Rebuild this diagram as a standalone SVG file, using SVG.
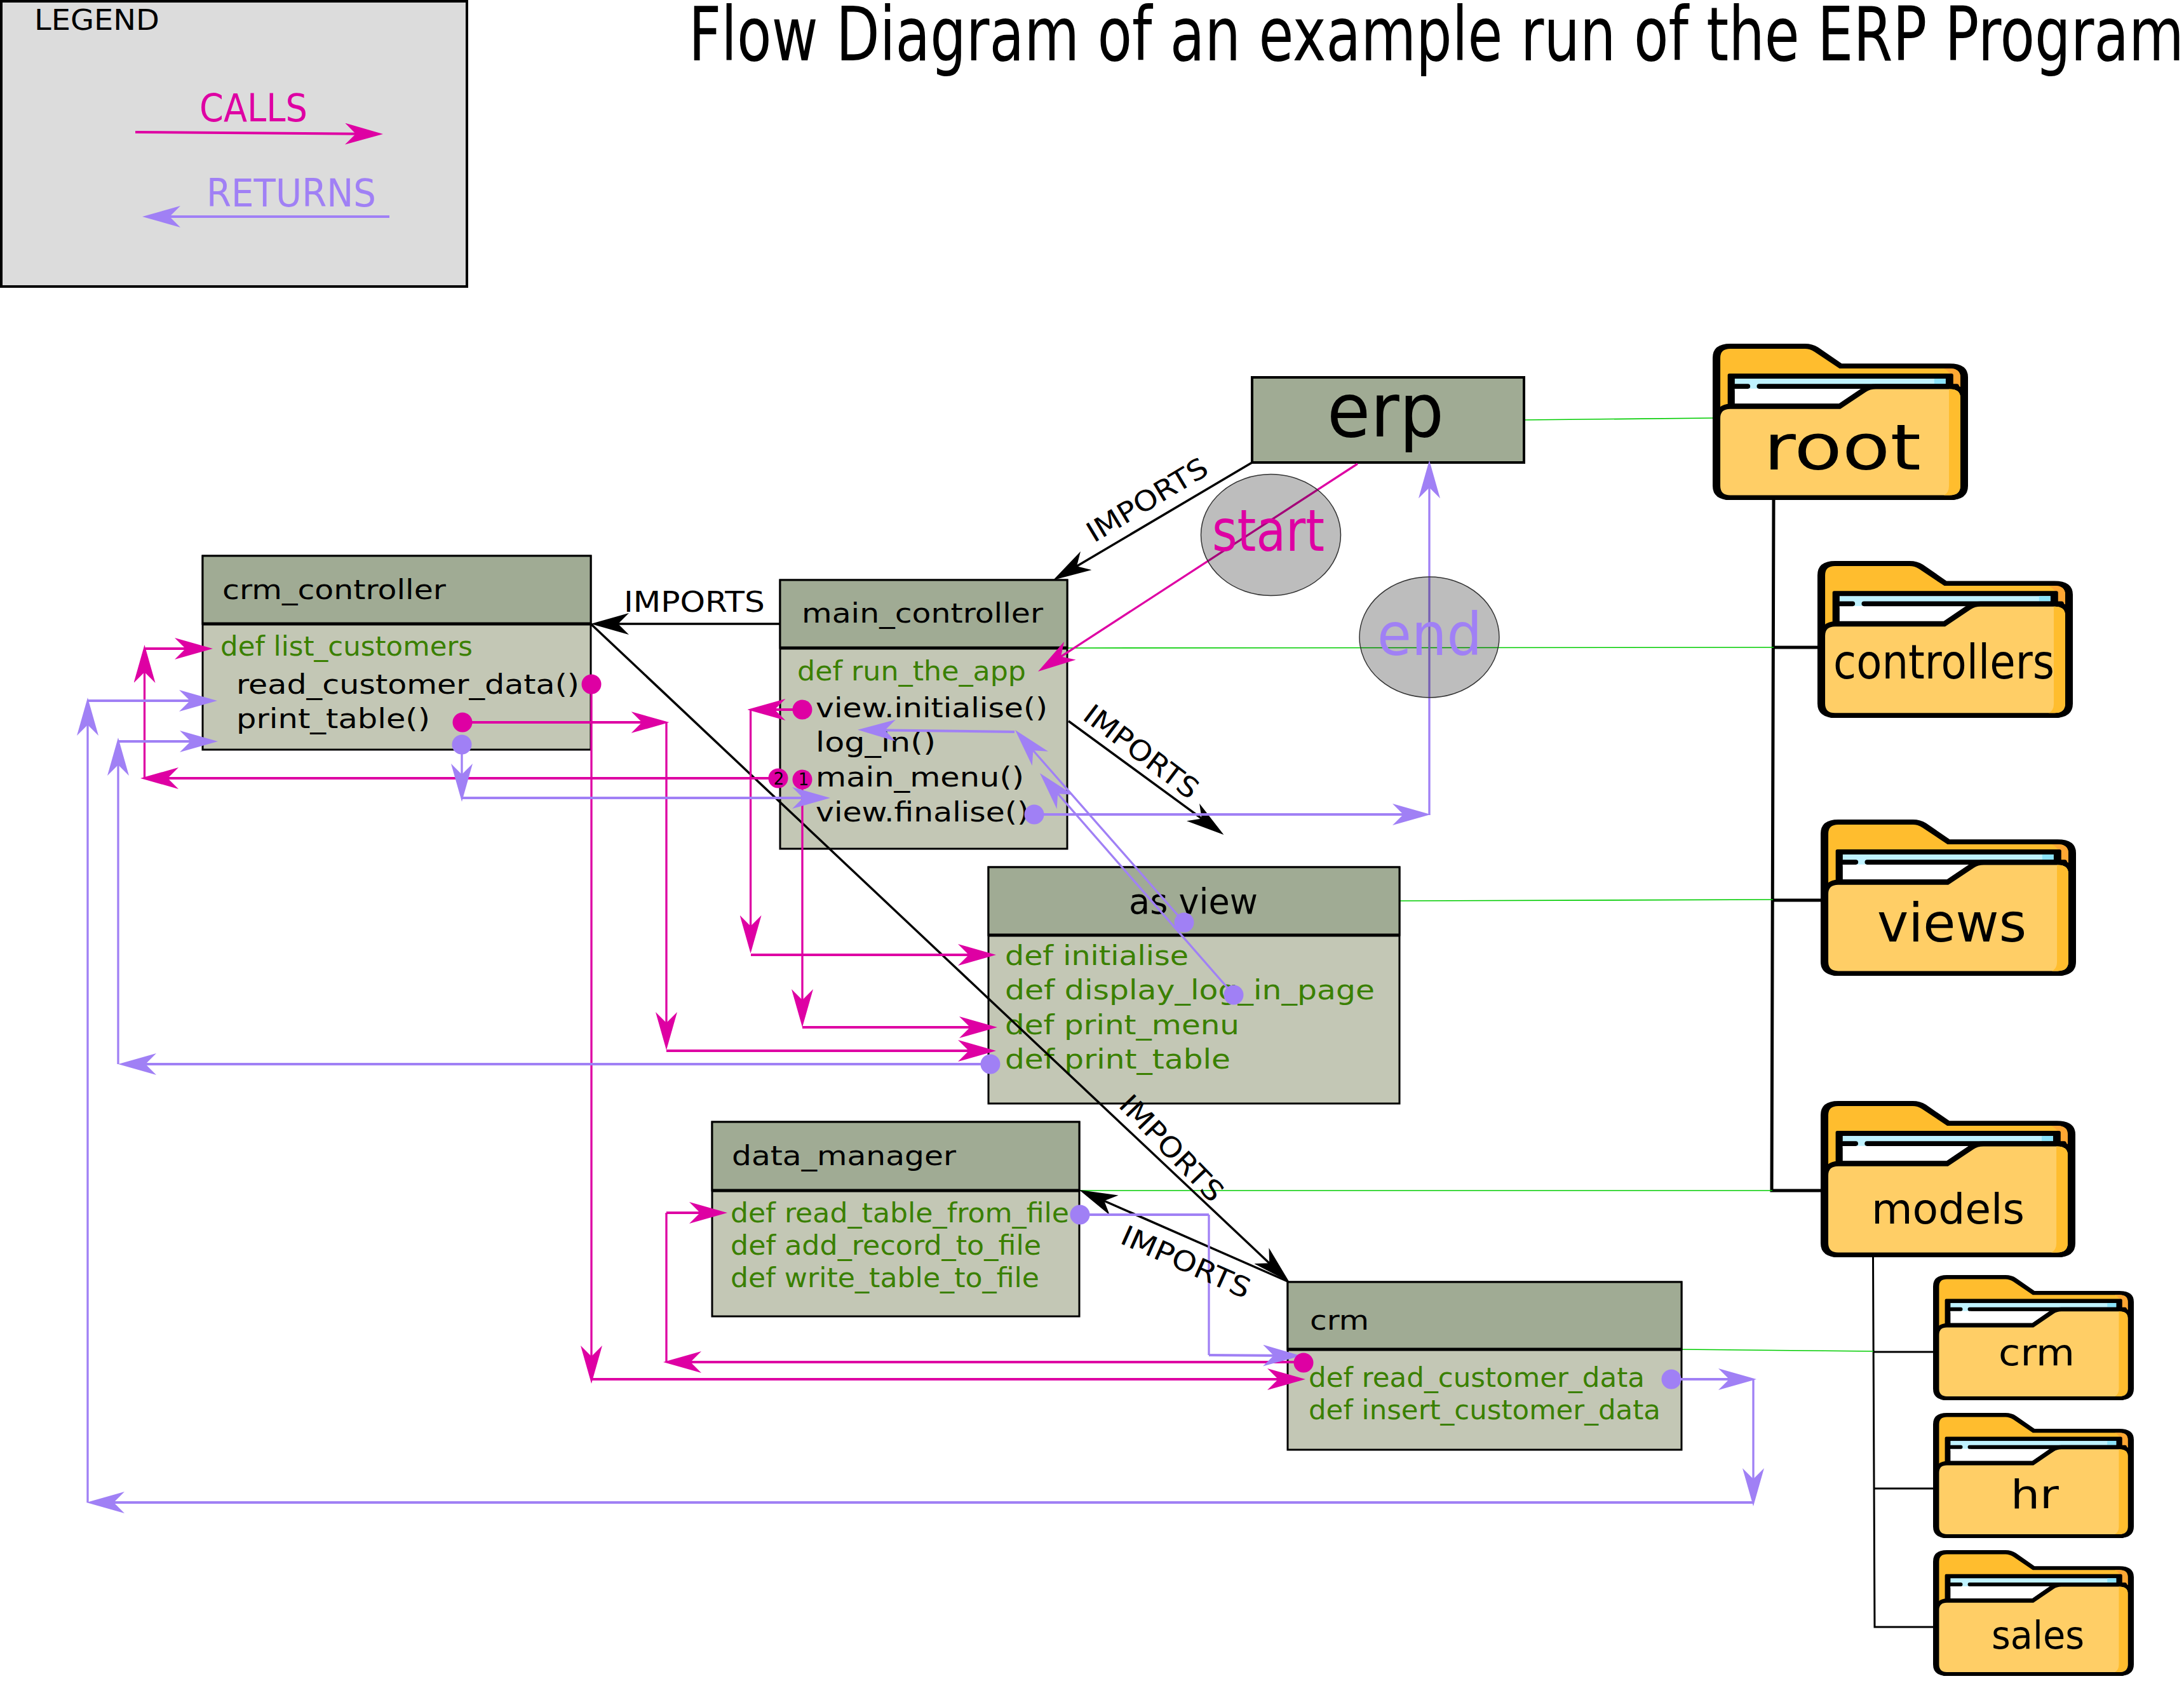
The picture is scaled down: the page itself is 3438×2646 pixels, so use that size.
<svg xmlns="http://www.w3.org/2000/svg" width="3438" height="2646" viewBox="0 0 3438 2646">
<style>
text{font-family:"DejaVu Sans","Verdana",sans-serif;fill:#000}
.t{font-size:43px}
.def{font-size:43px;fill:#3a8000}
.pk{fill:#de00a3}
.pp{fill:#a080f5}
.head{fill:#a0ab94;stroke:#000;stroke-width:3}
.body{fill:#c3c7b5;stroke:#000;stroke-width:3}
.div{stroke:#000;stroke-width:5}
.call,.ret,.imp,.grn,.tree{fill:none}
.call{stroke:#de00a3;marker-end:url(#ap)}
.ret{stroke:#a080f5;marker-end:url(#ar)}
.ca{stroke:#de00a3;fill:none}
.re{stroke:#a080f5;fill:none}
.h{stroke-width:4}
.v{stroke-width:3.3}
.imp{stroke:#000;stroke-width:3.5;marker-end:url(#ab)}
.grn{stroke:#00cc00;stroke-width:1.6}
.tree{stroke:#000;stroke-width:5}
.sub{stroke-width:3}
.blob{fill:#000;fill-opacity:.26;stroke:#333;stroke-width:1.5}
</style>
<defs>
<marker id="ap" markerUnits="userSpaceOnUse" markerWidth="60" markerHeight="34" refX="50" refY="17" orient="auto"><path d="M0 0L60 17L0 34L17 17Z" fill="#de00a3"/></marker>
<marker id="ar" markerUnits="userSpaceOnUse" markerWidth="60" markerHeight="34" refX="50" refY="17" orient="auto"><path d="M0 0L60 17L0 34L17 17Z" fill="#a080f5"/></marker>
<marker id="ab" markerUnits="userSpaceOnUse" markerWidth="60" markerHeight="34" refX="50" refY="17" orient="auto"><path d="M0 0L60 17L0 34L17 17Z" fill="#000"/></marker>
<symbol id="folder" viewBox="0 0 900 550" preserveAspectRatio="none">
<path d="M0 50Q0 0 62 0H325Q352 0 372 13L455 70H835Q900 70 900 118V500Q900 550 835 550H65Q0 550 0 500Z" fill="#000"/>
<path d="M27 50Q27 18 62 18H325Q342 18 358 28L447 87H835Q873 87 873 118V300H27Z" fill="#ffbd2e"/>
<path d="M815 87H835Q873 87 873 118V160H840V120Q840 100 815 87Z" fill="#ffa733"/>
<rect x="53" y="105" width="795" height="130" rx="6" fill="#000"/>
<rect x="78" y="123" width="743" height="30" fill="#bff2ff"/>
<rect x="781" y="123" width="40" height="18" fill="#8be3fa"/>
<path d="M78 141H170V165H78Z" fill="#bff2ff"/>
<path d="M78 158H523L445 211H78Z" fill="#fff"/>
<path d="M78 150H124M164 150H860" stroke="#000" stroke-width="17" stroke-linecap="round"/>
<path d="M27 262Q27 230 62 230H450L540 170Q555 160 575 160H835Q873 160 873 190V500Q873 533 835 533H62Q27 533 27 500Z" fill="#ffce66" stroke="#000" stroke-width="36" paint-order="stroke"/>
<path d="M833 160H835Q873 160 873 190V500Q873 533 835 533H815Q833 525 833 500Z" fill="#ffbd2e"/>
</symbol>
</defs>

<g id="legend">
<rect x="2" y="2" width="733" height="449" fill="#dcdcdc" stroke="#000" stroke-width="4"/>
<text x="54" y="47" font-size="44" textLength="197" lengthAdjust="spacingAndGlyphs">LEGEND</text>
<text class="pk" x="314" y="191" font-size="60" textLength="170" lengthAdjust="spacingAndGlyphs">CALLS</text>
<text class="pp" x="325" y="325" font-size="61" textLength="267" lengthAdjust="spacingAndGlyphs">RETURNS</text>
</g>
<text id="title" x="1084" y="95" font-size="117" textLength="2354" lengthAdjust="spacingAndGlyphs">Flow Diagram of an example run of the ERP Program</text>

<g id="tree">
<path class="tree" d="M2792 787L2789 1874H2866"/>
<path class="tree" d="M2792 1019H2861"/>
<path class="tree" d="M2791 1417H2866"/>
<path class="tree sub" d="M2948.5 1979L2951 2561H3043"/>
<path class="tree sub" d="M2949 2128H3043"/>
<path class="tree sub" d="M2950 2343H3043"/>
<path class="grn" d="M2400 661L2697 658"/>
<path class="grn" d="M1680 1020L2792 1019"/>
<path class="grn" d="M2203 1418L2791 1416"/>
<path class="grn" d="M1699 1874H2790"/>
<path class="grn" d="M2647 2124L2949 2127"/>
</g>

<g id="folder-root"><use href="#folder" x="2696" y="541" width="402" height="246"/><text x="2776" y="739" font-size="100" textLength="248" lengthAdjust="spacingAndGlyphs">root</text></g>
<g id="folder-controllers"><use href="#folder" x="2861" y="883" width="402" height="247"/><text x="2886" y="1068" font-size="74" textLength="348" lengthAdjust="spacingAndGlyphs">controllers</text></g>
<g id="folder-views"><use href="#folder" x="2866" y="1290" width="402" height="246"/><text x="2955" y="1482" font-size="83" textLength="235" lengthAdjust="spacingAndGlyphs">views</text></g>
<g id="folder-models"><use href="#folder" x="2866" y="1733" width="401" height="246"/><text x="2946" y="1926" font-size="65" textLength="241" lengthAdjust="spacingAndGlyphs">models</text></g>
<g id="folder-crm"><use href="#folder" x="3043" y="2007" width="316" height="197"/><text x="3146" y="2149" font-size="57" textLength="120" lengthAdjust="spacingAndGlyphs">crm</text></g>
<g id="folder-hr"><use href="#folder" x="3043" y="2224" width="316" height="197"/><text x="3165" y="2374" font-size="62" textLength="76" lengthAdjust="spacingAndGlyphs">hr</text></g>
<g id="folder-sales"><use href="#folder" x="3043" y="2440" width="316" height="198"/><text x="3135" y="2595" font-size="60" textLength="146" lengthAdjust="spacingAndGlyphs">sales</text></g>

<g id="node-erp">
<rect class="head" x="1971" y="594" width="428" height="134" style="stroke-width:4"/>
<text x="2089" y="687" font-size="117" textLength="184" lengthAdjust="spacingAndGlyphs">erp</text>
</g>

<g id="node-crm_controller">
<rect class="body" x="319" y="875" width="611" height="305"/>
<rect class="head" x="319" y="875" width="611" height="107"/>
<path class="div" d="M319 982H930"/>
<text class="t" x="350" y="943" textLength="352" lengthAdjust="spacingAndGlyphs">crm_controller</text>
<text class="def" x="347" y="1032" textLength="397" lengthAdjust="spacingAndGlyphs">def list_customers</text>
<text class="t" x="372" y="1092" textLength="540" lengthAdjust="spacingAndGlyphs">read_customer_data()</text>
<text class="t" x="372" y="1146" textLength="305" lengthAdjust="spacingAndGlyphs">print_table()</text>
</g>

<g id="node-main_controller">
<rect class="body" x="1228" y="913" width="452" height="423"/>
<rect class="head" x="1228" y="913" width="452" height="107"/>
<path class="div" d="M1228 1020H1680"/>
<text class="t" x="1262" y="980" textLength="380" lengthAdjust="spacingAndGlyphs">main_controller</text>
<text class="def" x="1255" y="1071" textLength="360" lengthAdjust="spacingAndGlyphs">def run_the_app</text>
<text class="t" x="1284" y="1129" textLength="365" lengthAdjust="spacingAndGlyphs">view.initialise()</text>
<text class="t" x="1284" y="1183" textLength="189" lengthAdjust="spacingAndGlyphs">log_in()</text>
<text class="t" x="1284" y="1238" textLength="328" lengthAdjust="spacingAndGlyphs">main_menu()</text>
<text class="t" x="1284" y="1293" textLength="336" lengthAdjust="spacingAndGlyphs">view.finalise()</text>
</g>

<g id="node-view">
<rect class="body" x="1556" y="1365" width="647" height="372"/>
<rect class="head" x="1556" y="1365" width="647" height="107"/>
<path class="div" d="M1556 1472H2203"/>
<text x="1777" y="1438" font-size="55" textLength="203" lengthAdjust="spacingAndGlyphs">as view</text>
<text class="def" x="1582" y="1519" textLength="289" lengthAdjust="spacingAndGlyphs">def initialise</text>
<text class="def" x="1582" y="1573" textLength="582" lengthAdjust="spacingAndGlyphs">def display_log_in_page</text>
<text class="def" x="1582" y="1628" textLength="369" lengthAdjust="spacingAndGlyphs">def print_menu</text>
<text class="def" x="1582" y="1682" textLength="355" lengthAdjust="spacingAndGlyphs">def print_table</text>
</g>

<g id="node-data_manager">
<rect class="body" x="1121" y="1766" width="578" height="306"/>
<rect class="head" x="1121" y="1766" width="578" height="108"/>
<path class="div" d="M1121 1874H1699"/>
<text class="t" x="1152" y="1834" textLength="353" lengthAdjust="spacingAndGlyphs">data_manager</text>
<text class="def" x="1150" y="1924" textLength="533" lengthAdjust="spacingAndGlyphs">def read_table_from_file</text>
<text class="def" x="1150" y="1975" textLength="489" lengthAdjust="spacingAndGlyphs">def add_record_to_file</text>
<text class="def" x="1150" y="2026" textLength="486" lengthAdjust="spacingAndGlyphs">def write_table_to_file</text>
</g>

<g id="node-crm">
<rect class="body" x="2027" y="2018" width="620" height="264"/>
<rect class="head" x="2027" y="2018" width="620" height="106"/>
<path class="div" d="M2027 2124H2647"/>
<text class="t" x="2062" y="2093" textLength="93" lengthAdjust="spacingAndGlyphs">crm</text>
<text class="def" x="2060" y="2183" textLength="529" lengthAdjust="spacingAndGlyphs">def read_customer_data</text>
<text class="def" x="2060" y="2234" textLength="554" lengthAdjust="spacingAndGlyphs">def insert_customer_data</text>
</g>

<g id="connectors">
<path class="imp" d="M1971 728L1666.6 908"/>
<path class="imp" d="M1227 982H940"/>
<path class="imp" d="M930 982L2022.2 2011"/>
<path class="imp" d="M2027 2017L1708 1877"/>
<path class="imp" d="M1682 1135L1918.4 1308"/>

<path class="call h" d="M213 208L593 211"/>
<path class="ret h" d="M613 341H234"/>

<path class="call v" d="M2137 730L1642.4 1051.5"/>
<path class="call h" d="M1263 1117H1186.5"/>
<path class="call v" d="M1181.6 1117V1490.7"/>
<path class="call h" d="M1182 1503H1558"/>
<path class="call v" d="M1263 1227V1607"/>
<path class="call h" d="M1263 1617H1560"/>
<path class="call h" d="M1225 1225H231"/>
<path class="call v" d="M227.5 1225V1025"/>
<path class="call h" d="M229 1021H325"/>
<path class="call h" d="M728 1137H1043.5"/>
<path class="call v" d="M1049 1137V1643"/>
<path class="call h" d="M1049 1654H1558"/>
<path class="call v" d="M931 1077V2168"/>
<path class="call h" d="M931 2171H2045"/>
<path class="call h" d="M2052 2144H1054"/>
<path class="ca v" d="M1049 2143V1909"/>
<path class="call h" d="M1049 1909H1135"/>

<path class="ret v" d="M727 1172V1252"/>
<path class="ret h" d="M727 1256H1297"/>
<path class="ret h" d="M1628 1282H2242"/>
<path class="ret v" d="M2250 1283V734.5"/>
<path class="ret v" d="M1864 1452L1604.6 1156.5"/>
<path class="ret v" d="M1942 1566L1643.5 1224.5"/>
<path class="ret h" d="M1597 1152L1360 1149"/>
<path class="ret h" d="M1559 1675H196"/>
<path class="ret v" d="M186 1675V1171"/>
<path class="ret h" d="M186 1167H333"/>
<path class="ret h" d="M2760 2365H146"/>
<path class="ret v" d="M138 2365V1108"/>
<path class="ret h" d="M138 1103H332"/>
<path class="ret h" d="M2631 2171H2755"/>
<path class="ret v" d="M2760 2172V2361"/>
<path class="re h" d="M1700 1912H1903"/>
<path class="re v" d="M1903 1912V2133"/>
<path class="ret h" d="M1903 2133L2038 2134"/>
</g>

<g id="dots">
<circle class="pk" cx="931" cy="1077" r="15.5"/>
<circle class="pk" cx="728" cy="1137" r="15.5"/>
<circle class="pp" cx="727" cy="1172" r="15.5"/>
<circle class="pk" cx="1263" cy="1117" r="15.5"/>
<circle class="pk" cx="1225" cy="1225" r="15.5"/>
<circle class="pk" cx="1263" cy="1227" r="15.5"/>
<circle class="pp" cx="1628" cy="1282" r="15.5"/>
<circle class="pp" cx="1864" cy="1452" r="15.5"/>
<circle class="pp" cx="1942" cy="1566" r="15.5"/>
<circle class="pp" cx="1559" cy="1675" r="15.5"/>
<circle class="pp" cx="1700" cy="1912" r="15.5"/>
<circle class="pk" cx="2052" cy="2145" r="15.5"/>
<circle class="pp" cx="2631" cy="2171" r="15.5"/>
<text x="1226" y="1235" font-size="26" text-anchor="middle">2</text>
<text x="1265" y="1236" font-size="26" text-anchor="middle">1</text>
</g>

<g id="labels">
<text x="982" y="963" font-size="44" textLength="222" lengthAdjust="spacingAndGlyphs">IMPORTS</text>
<text font-size="44" transform="translate(1722 855) rotate(-31)" textLength="214" lengthAdjust="spacingAndGlyphs">IMPORTS</text>
<text font-size="44" transform="translate(1702 1131) rotate(37)" textLength="214" lengthAdjust="spacingAndGlyphs">IMPORTS</text>
<text font-size="44" transform="translate(1759 1741) rotate(46)" textLength="214" lengthAdjust="spacingAndGlyphs">IMPORTS</text>
<text font-size="44" transform="translate(1761 1956) rotate(24)" textLength="218" lengthAdjust="spacingAndGlyphs">IMPORTS</text>
</g>

<g id="node-start">
<ellipse class="blob" cx="2000.5" cy="842" rx="110" ry="95.5"/>
<text class="pk" x="1908" y="867" font-size="90" textLength="177" lengthAdjust="spacingAndGlyphs">start</text>
</g>
<g id="node-end">
<ellipse class="blob" cx="2250" cy="1003" rx="110" ry="95"/>
<text class="pp" x="2168" y="1031" font-size="92" textLength="165" lengthAdjust="spacingAndGlyphs">end</text>
</g>
</svg>
